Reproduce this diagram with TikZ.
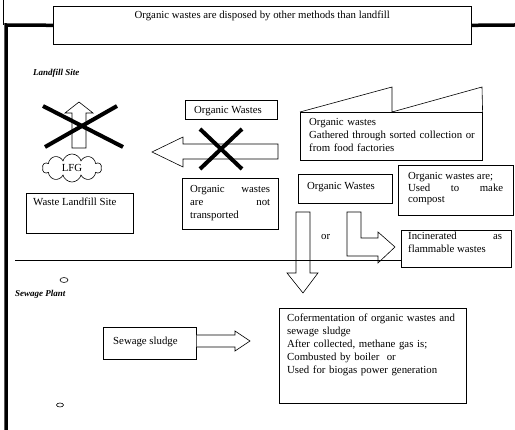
\documentclass[tikz,border=0pt]{standalone}
\usepackage{fontspec}
\setmainfont{Liberation Serif}
\usepackage{tikz}
\usetikzlibrary{calc}
\usetikzlibrary{positioning}
\usetikzlibrary{shapes.symbols}

\begin{document}
\begin{tikzpicture}[x=1pt,y=-1pt]
% 1 = 1px of the sheet, y runs down
    \def\LW{0.6pt} %thin lines
    \def\FRAMEX{6}
    \def\FRAMEY{25}
    \def\DIVY{260} %line between the two sites
    \def\ROOFTOP{87}

    \tikzset{
      box/.style={draw, line width=\LW, inner sep=0pt, anchor=north west},
      txt/.style={inner sep=0pt, anchor=base west, align=left,
        font=\fontsize{10.8}{13}\selectfont},
      jtxt/.style={txt, align=justify},
      blockarrow/.style={draw, line width=\LW, fill=white, line join=miter},
      nope/.style={line width=4pt},
      heading/.style={inner sep=0pt, anchor=base west,
        font=\fontsize{9}{11}\selectfont\bfseries\itshape},
    }

    \useasboundingbox (0,0) rectangle (515,430);

    % TITLE
    \node[box, minimum width=418pt, minimum height=38pt] (title) at (53,6) {};
    \node[txt, anchor=base] (titletxt) at ($(title.north)+(0,13)$)
        {Organic wastes are disposed by other methods than landfill};

    % FRAME
    \draw[line width=1pt] (3,0) -- (3,\FRAMEY);
    \draw[line width=3.5pt] (title.west) -- (\FRAMEX,\FRAMEY) -- (\FRAMEX,431);
    \draw[line width=3.5pt] (title.east) -- (515,\FRAMEY);

    % LANDFILL SITE
    \node[heading] (landfill) at (33,76) {Landfill Site};

    % LFG ARROW
    \draw[blockarrow] (72,148) -- (72,113) -- (65,113) -- (79,102)
        -- (93,113) -- (86,113) -- (86,148) -- cycle;
    \node[draw, cloud, cloud puffs=10, aspect=2.2, line width=\LW,
        minimum width=59pt, minimum height=28pt, inner sep=0pt,
        font=\fontsize{10.8}{13}\selectfont] (lfg) at (72,168) {LFG};
    \draw[nope] (43,106) -- (123,147);
    \draw[nope] (45,147) -- (117,106);

    \node[box, minimum width=107pt, minimum height=40pt] (wls) at (26,193) {};
    \node[txt] (wlstxt) at (33,206) {Waste Landfill Site};

    % NOT TRANSPORTED
    \node[box, minimum width=92pt, minimum height=19pt] (owtop) at (185,100) {};
    \node[txt, anchor=base] (owtoptxt) at (228,114) {Organic Wastes};

    \draw[blockarrow] (278,144) -- (183,144) -- (183,137) -- (152,152)
        -- (183,167) -- (183,159) -- (278,159) -- cycle;
    \draw[nope] (200,129) -- (242,169);
    \draw[nope] (242,129) -- (200,169);

    \node[box, minimum width=96pt, minimum height=51pt] (notrans) at (182,178) {};
    \node[jtxt, text width=80pt] (notranstxt) at (190,193)
        {Organic wastes\linebreak are not\linebreak transported};

    % GATHERED
    \node[box, minimum width=182pt, minimum height=48pt] (gather) at (300,112) {};
    \node[txt, text width=175pt] (gathertxt) at (309,126)
        {Organic wastes\\Gathered through sorted collection or\\from food factories};
    \coordinate (roofA) at (392,\ROOFTOP);
    \coordinate (roofB) at (482,\ROOFTOP);
    \draw[line width=\LW] (gather.north west) -- (roofA) -- (roofA |- gather.north)
        -- (roofB) -- (gather.north east);

    % ORGANIC WASTES -> COMPOST / INCINERATED / SEWAGE PLANT
    \node[box, minimum width=94pt, minimum height=29pt] (owmid) at (298,174) {};
    \node[txt] (owmidtxt) at (307,190) {Organic Wastes};

    \node[box, minimum width=115pt, minimum height=50pt] (compost) at (398,165) {};
    \node[jtxt, text width=95pt, font=\fontsize{10.8}{11.5}\selectfont]
        (composttxt) at (408,180)
        {Organic wastes are;\\Used to make\linebreak compost};

    \draw[blockarrow] (296,212) -- (296,273) -- (287,273) -- (303,293)
        -- (318,273) -- (310,273) -- (310,212) -- cycle;
    \draw[blockarrow] (347,212) -- (361,212) -- (361,238) -- (378,238)
        -- (378,232) -- (395,247) -- (378,263) -- (378,256) -- (347,256) -- cycle;
    \node[txt] (ortxt) at (321,240) {or};

    \node[box, minimum width=110pt, minimum height=37pt] (incin) at (401,230) {};
    \node[jtxt, text width=94pt] (incintxt) at (408,240)
        {Incinerated as\linebreak flammable wastes};

    % DIVIDER
    \coordinate (divL) at (15,\DIVY);
    \draw[line width=\LW] (divL) -- (divL -| incin.west);

    % SEWAGE PLANT
    \draw[line width=\LW] (64,280) ellipse (4pt and 2.5pt);
    \node[heading] (sewage) at (15,297) {Sewage Plant};
    \draw[line width=\LW] (60,405) ellipse (3.5pt and 2pt);

    \node[box, minimum width=93pt, minimum height=32pt] (sludge) at (103,327) {};
    \node[txt] (sludgetxt) at (113,345) {Sewage sludge};
    \draw[blockarrow] (sludge.east |- 0,335) -- (235,335) -- (235,331) -- (250,341)
        -- (235,351) -- (235,347) -- (sludge.east |- 0,347);

    \node[box, minimum width=187pt, minimum height=95pt] (coferm) at (279,308) {};
    \node[txt, text width=178pt] (cofermtxt) at (287,322)
        {Cofermentation of organic wastes and\\sewage sludge\\After collected, methane gas is;\\
         Combusted by boiler\ \ or\\Used for biogas power generation};

\end{tikzpicture}
\end{document}
